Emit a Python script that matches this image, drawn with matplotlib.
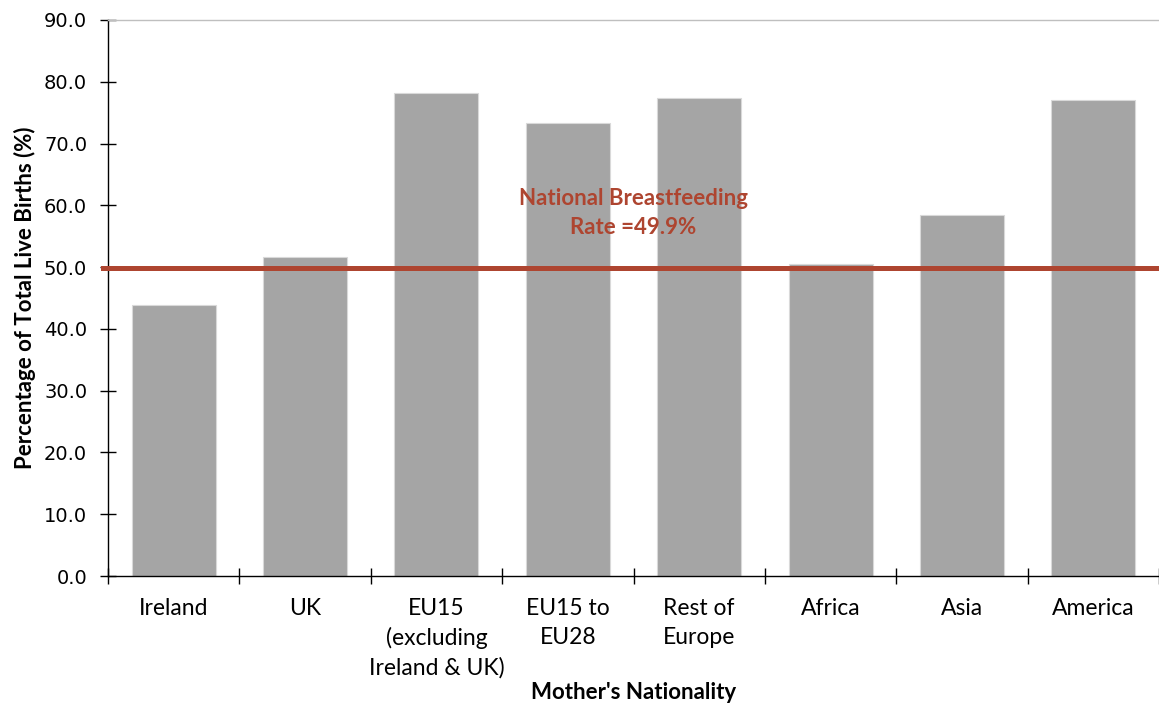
"""Breastfeeding rate by mother's nationality, with the national rate as a reference line."""
import matplotlib

matplotlib.use("Agg")
import matplotlib.pyplot as plt
import numpy as np

NATIONALITIES = [
    "Ireland",
    "UK",
    "EU15\n(excluding\nIreland & UK)",
    "EU15 to\nEU28",
    "Rest of\nEurope",
    "Africa",
    "Asia",
    "America",
]
RATES = [43.9, 51.6, 78.2, 73.3, 77.4, 50.5, 58.4, 77.0]
NATIONAL_RATE = 49.9

BAR_COLOR = "#a5a5a5"
LINE_COLOR = "#ae4530"
LABEL_FONT = "Lato"


def main() -> None:
    fig = plt.figure(figsize=(11.59, 7.06), dpi=100)
    ax = fig.add_axes([0.0932, 0.1841, 0.9068, 0.7876])

    x = np.arange(len(NATIONALITIES))
    ax.bar(x, RATES, width=0.64, color=BAR_COLOR, edgecolor="#d9d9d9",
           linewidth=0.8, zorder=2)

    ax.axhline(NATIONAL_RATE, xmin=-0.005, xmax=1.0, color=LINE_COLOR,
               lw=3.6, zorder=3, clip_on=False)
    ax.text(3.5, NATIONAL_RATE + 8.9, "National Breastfeeding\nRate =%.1f%%" % NATIONAL_RATE,
            ha="center", va="center", color=LINE_COLOR, fontsize=16,
            fontweight="bold", family=LABEL_FONT, linespacing=1.45, zorder=4)

    ax.set_xlim(-0.5, len(NATIONALITIES) - 0.5)
    ax.set_ylim(0, 90)
    ax.set_yticks(np.arange(0, 91, 10))
    ax.set_yticklabels([f"{v:.1f}" for v in np.arange(0, 91, 10)], fontsize=14)
    ax.tick_params(axis="y", direction="inout", length=12, width=1, pad=9)

    # labels at the bar centres, tick marks on the category boundaries
    ax.set_xticks(x)
    ax.set_xticklabels(NATIONALITIES, fontsize=16.5, family=LABEL_FONT,
                       linespacing=1.45, va="top")
    ax.tick_params(axis="x", which="major", length=0, pad=16)
    ax.set_xticks(np.arange(-0.5, len(NATIONALITIES), 1.0), minor=True)
    ax.tick_params(axis="x", which="minor", direction="inout", length=11, width=1)

    ax.spines["right"].set_visible(False)
    ax.spines["top"].set_color("#bfbfbf")
    ax.spines["top"].set_linewidth(1.0)
    for side in ("left", "bottom"):
        ax.spines[side].set_linewidth(1.0)

    ax.set_ylabel("Percentage of Total Live Births (%)", fontsize=16,
                  fontweight="bold", family=LABEL_FONT, labelpad=6)
    ax.set_xlabel("Mother's Nationality", fontsize=16, fontweight="bold",
                  family=LABEL_FONT, labelpad=2)

    fig.savefig("out.png", dpi=100)
    plt.close(fig)


if __name__ == "__main__":
    main()
